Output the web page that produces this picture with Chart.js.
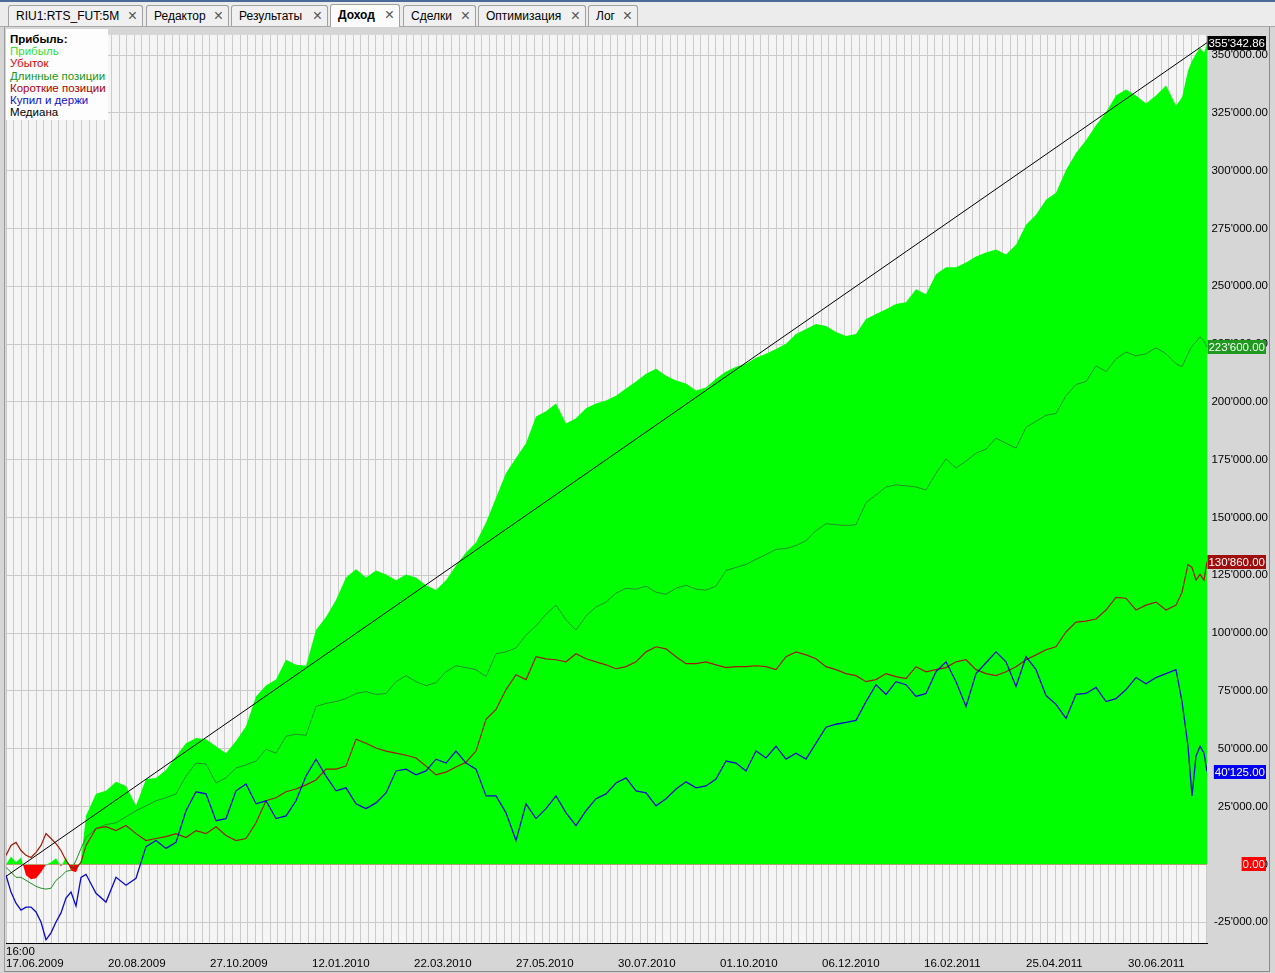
<!DOCTYPE html>
<html>
<head>
<meta charset="utf-8">
<script src="https://cdn.jsdelivr.net/npm/chart.js@4/dist/chart.umd.min.js"></script>
<style>
  html, body { margin: 0; padding: 0; }
  body {
    width: 1275px; height: 973px; position: relative; overflow: hidden;
    background: #d6d6d6;
    font-family: "Liberation Sans", Arial, sans-serif;
  }
  #topline { position: absolute; left: 0; top: 0; width: 1275px; height: 2px; background: #4a6a9a; }
  #tabs { position: absolute; left: 0; top: 2px; width: 1275px; height: 24px; background: #ececec; border-bottom: 1px solid #a8a8a8; }
  .tab {
    position: absolute; top: 3px; height: 21px; box-sizing: border-box;
    border: 1px solid #a0a0a0; border-bottom: none; border-radius: 3px 3px 0 0;
    background: #f0f0f0; font-size: 12px; line-height: 20px; padding-left: 7px;
    color: #000; white-space: nowrap;
  }
  .tab.active { background: #fbfbfb; font-weight: bold; top: 2px; height: 23px; }
  .tab .x { position: absolute; right: 5px; top: 1px; font-size: 16px; line-height: 18px; color: #555; font-weight: normal; }
  #frame { position: absolute; left: 4px; top: 27px; width: 1266px; height: 945px; border-left: 1px solid #9a9a9a; border-right: 1px solid #8a8a8a; border-bottom: 1px solid #8a8a8a; box-sizing: border-box; }
  #wrap { position: absolute; left: 0; top: 27px; width: 1268px; height: 946px; }
  #legend {
    position: absolute; left: 6px; top: 29px; width: 102px; height: 91px;
    background: #fdfdfd; font-size: 11.5px; line-height: 12.2px; padding: 4px 0 0 4px;
    box-sizing: border-box;
  }
  #legend div { white-space: nowrap; }
</style>
</head>
<body>
<div id="topline"></div>
<div id="tabs">
  <div class="tab" style="left:8px;width:135px">RIU1:RTS_FUT:5M<span class="x">×</span></div>
  <div class="tab" style="left:146px;width:83px">Редактор<span class="x">×</span></div>
  <div class="tab" style="left:231px;width:97px">Результаты<span class="x">×</span></div>
  <div class="tab active" style="left:330px;width:70px">Доход<span class="x">×</span></div>
  <div class="tab" style="left:403px;width:73px">Сделки<span class="x">×</span></div>
  <div class="tab" style="left:478px;width:108px">Оптимизация<span class="x">×</span></div>
  <div class="tab" style="left:588px;width:50px">Лог<span class="x">×</span></div>
</div>
<div id="frame"></div>
<div id="wrap"><canvas id="income" width="1268" height="946"></canvas></div>
<div id="legend">
  <div style="font-weight:bold;color:#000">Прибыль:</div>
  <div style="color:#33dd33">Прибыль</div>
  <div style="color:#e00000">Убыток</div>
  <div style="color:#1a961a">Длинные позиции</div>
  <div style="color:#b00000">Короткие позиции</div>
  <div style="color:#1010cc">Купил и держи</div>
  <div style="color:#000">Медиана</div>
</div>
<script>
// bar numbers of the sampled points (0 = 17.06.2009 16:00)
const bars = [0, 5, 10, 15, 20, 25, 30, 35, 40, 45, 50, 55, 60, 65, 70, 75, 80,
  90, 100, 110, 120, 130, 140, 150, 160, 170, 180, 190, 200, 210, 220, 230, 240, 250, 260, 270, 280,
  290, 300, 310, 320, 330, 340, 350, 360, 370, 380, 390, 400, 410, 420, 430, 440, 450, 460, 470, 480,
  490, 500, 510, 520, 530, 540, 550, 560, 570, 580, 590, 600, 610, 620, 630, 640, 650, 660, 670, 680,
  690, 700, 710, 720, 730, 740, 750, 760, 770, 780, 790, 800, 810, 820, 830, 840, 850, 860, 870, 880,
  890, 900, 910, 920, 930, 940, 950, 960, 970, 980, 990, 1000, 1010, 1020, 1030, 1040, 1050, 1060, 1070, 1080,
  1090, 1100, 1110, 1120, 1130, 1140, 1150, 1160, 1170,
  1176, 1182, 1186, 1190, 1194, 1198, 1201];

const profit = [0, 3400, 900, 3000, -4700, -6400, -6000, -3400, 0, 900, 2600, -900, 3000, -2600, -3400, 1700, 21000,
  30500, 31800, 35700, 33900, 25300, 36900, 37400, 40800, 46800, 52400,
  54600, 54100, 51100, 48100, 53300, 59700, 72600, 77300, 79900, 88500,
  86300, 85900, 101400, 107000, 114300, 124100, 127600, 124100, 127100, 125400,
  122900, 125400, 124100, 120700, 118600, 122900, 129300, 134900, 139200, 147800,
  158500, 169200, 175700, 182100, 193700, 195900, 199300, 190700, 192900, 197200,
  199300, 200600, 202700, 205800, 208800, 212200, 214300, 211300, 209200, 207900,
  204900, 206200, 210000, 213100, 215200, 216500, 219100, 220800, 222900, 225100,
  229400, 231500, 233700, 232800, 230200, 228500, 229400, 235800, 238000, 240100,
  242300, 243100, 248700, 246600, 255200, 258200, 258200, 260300, 262900, 264600,
  265900, 263700, 268000, 276600, 280900, 287400, 290400, 300300, 307600, 313100,
  319600, 325200, 332500, 335100, 332500, 329000, 332500, 336800, 328200,
  331600, 343200, 347500, 350500, 353100, 351000, 354460];

const longPos = [-1300, -3400, -5600, -5600, -6900, -8200, -9500, -10300, -10700, -10300, -6900, -5200, -3000, -2600, 1700, 6900, 11600,
  15500, 17200, 18000, 20600, 23200, 25300, 27500, 28800, 30500, 38200,
  43800, 43400, 35200, 37400, 41700, 43000, 44700, 49800, 48100, 55400,
  56300, 55800, 68300, 69600, 70400, 71700, 73900, 74700, 73500, 73900,
  79000, 81600, 79000, 77300, 78600, 83300, 85900, 85100, 84200, 81200,
  91100, 91900, 93600, 99200, 103100, 108200, 112100, 105700, 101400, 107400,
  111300, 113400, 117300, 119400, 119000, 120300, 117700, 116800, 119400, 120700,
  119000, 118600, 120300, 127100, 128400, 129700, 131900, 134000, 136200, 136600,
  137900, 140000, 144300, 147300, 146900, 146500, 146900, 156400, 159800, 163200,
  164100, 163700, 163200, 161900, 169200, 175300, 171400, 174400, 177800, 179600,
  184300, 182100, 180000, 189000, 191600, 194200, 195000, 202700, 207500, 208800,
  215600, 213100, 218600, 221600, 219900, 220800, 223400, 220800, 216500,
  215200, 220800, 224200, 225900, 228100, 226400, 223600];

const shortPos = [3900, 8200, 9500, 6000, 3900, 3000, 5200, 8200, 13300, 11200, 9000, 6000, 1700, -1300, -1700, 900, 8200,
  15500, 16300, 14600, 16800, 13300, 10300, 11200, 12000, 13300, 11600,
  14600, 13300, 16300, 12500, 10300, 11200, 18000, 27500, 28800, 31400,
  32600, 34400, 36500, 41200, 41200, 42500, 54100, 52400, 50300, 49000,
  48100, 47200, 46000, 42500, 38700, 39900, 42100, 44200, 49000, 62700,
  67000, 75600, 82000, 79900, 89800, 88900, 88500, 87600, 91100, 88900,
  87600, 86300, 84600, 85500, 87600, 91900, 94100, 93200, 89800, 86800,
  86800, 87600, 86300, 85100, 85500, 85500, 85900, 85500, 84200, 89800,
  91900, 90600, 88900, 85500, 84200, 82500, 81600, 79000, 79900, 82500,
  81200, 80300, 85500, 83300, 84200, 85100, 87600, 88500, 84200, 82500,
  81600, 83300, 85500, 88500, 90600, 92800, 94100, 100500, 104800, 105200,
  106100, 110000, 115500, 115100, 110000, 112100, 113400, 110000, 112100,
  117700, 129700, 128400, 122900, 125400, 122900, 130860];

const buyHold = [-4700, -12000, -16800, -19800, -18500, -18500, -20600, -24900, -32600, -29600, -24900, -21000, -14600, -12000, -18000, -5600, -4300,
  -12500, -16300, -5600, -9000, -6000, 7700, 10300, 6900, 9500, 23200,
  31400, 30500, 18900, 19800, 31800, 34800, 26200, 27500, 19800, 21000,
  27500, 38200, 45500, 38200, 31800, 33100, 26200, 24100, 26600, 30900,
  40400, 41200, 38700, 40400, 45500, 43800, 49000, 43800, 41200, 29600,
  29600, 22300, 10300, 26200, 19800, 24100, 29600, 22300, 16800, 23200,
  28400, 30500, 35200, 37400, 31800, 30900, 25300, 28400, 32600, 35700,
  33100, 33900, 36900, 44700, 43800, 40400, 49000, 46000, 51100, 45500,
  48100, 45500, 52400, 59300, 60600, 61400, 62300, 70400, 77700, 73500,
  79000, 77700, 72600, 73900, 83300, 87600, 79000, 68300, 82500, 87200,
  91900, 87600, 76900, 89800, 84200, 73000, 69200, 63100, 73500, 73900,
  76500, 70400, 71700, 75600, 80800, 78100, 80800, 82500, 84200,
  70400, 51100, 29600, 46800, 51100, 48100, 40125];

const medianBars = [0, 1201];
const median = [-5200, 355342.86];

const yTicks = [-25000, 0, 25000, 50000, 75000, 100000, 125000, 150000, 175000, 200000,
  225000, 250000, 275000, 300000, 325000, 350000];
const dateTicks = [0, 102, 204, 306, 408, 510, 612, 714, 816, 918, 1020, 1122];
const dateLabels = ['17.06.2009', '20.08.2009', '27.10.2009', '12.01.2010', '22.03.2010', '27.05.2010',
  '30.07.2010', '01.10.2010', '06.12.2010', '16.02.2011', '25.04.2011', '30.06.2011'];

const FONT = '"Liberation Sans", Arial, sans-serif';
const gridStep = 7.55;

function xy(xs, ys) {
  return xs.map((x, i) => ({ x: x, y: ys[i] }));
}

function money(v) {
  const s = Math.abs(v).toFixed(2).split('.');
  return (v < 0 ? '-' : '') + s[0].replace(/\B(?=(\d{3})+(?!\d))/g, "'") + '.' + s[1];
}

// plot background
const plotBg = {
  id: 'plotBg',
  beforeDraw(chart) {
    const a = chart.chartArea;
    const ctx = chart.ctx;
    ctx.save();
    ctx.fillStyle = '#f5f5f5';
    ctx.fillRect(a.left, a.top, a.right - a.left, a.bottom - a.top);
    ctx.restore();
  }
};

// coloured boxes with the last values on the right axis
const lastValues = {
  id: 'lastValues',
  afterDraw(chart) {
    const ctx = chart.ctx;
    const y = chart.scales.y;
    const right = chart.width - 2;
    const tags = [];
    chart.data.datasets.forEach(ds => {
      if (ds.tagColor) tags.push({ v: ds.data[ds.data.length - 1].y, c: ds.tagColor });
    });
    tags.push({ v: Math.min(0, profit[profit.length - 1]), c: '#ff0000' });
    ctx.save();
    ctx.font = '11.5px ' + FONT;
    ctx.textAlign = 'right';
    ctx.textBaseline = 'middle';
    tags.forEach(t => {
      const txt = money(t.v);
      const w = ctx.measureText(txt).width + 2;
      const py = Math.round(y.getPixelForValue(t.v));
      ctx.fillStyle = t.c;
      ctx.fillRect(right - w, py - 7, w, 14);
      ctx.fillStyle = '#fff';
      ctx.fillText(txt, right - 1, py + 1);
    });
    ctx.restore();
  }
};

new Chart(document.getElementById('income'), {
  type: 'line',
  data: {
    datasets: [
      { label: 'Медиана', data: xy(medianBars, median), borderColor: '#000', borderWidth: 1, tagColor: '#000' },
      { label: 'Купил и держи', data: xy(bars, buyHold), borderColor: '#0a0acc', borderWidth: 1.3, tagColor: '#0000ee' },
      { label: 'Короткие позиции', data: xy(bars, shortPos), borderColor: '#a21800', borderWidth: 1.2, tagColor: '#a00d0d' },
      { label: 'Длинные позиции', data: xy(bars, longPos), borderColor: '#23902a', borderWidth: 1, tagColor: '#1f9a1f' },
      {
        label: 'Прибыль', data: xy(bars, profit), borderColor: 'rgba(0,0,0,0)', borderWidth: 0,
        fill: { target: 'origin', above: '#00ff00', below: '#ff0000' }
      }
    ]
  },
  options: {
    responsive: false,
    animation: false,
    devicePixelRatio: 1,
    layout: { padding: { left: 6, top: 2, right: 0, bottom: 0 } },
    elements: { point: { radius: 0 }, line: { tension: 0 } },
    plugins: { legend: { display: false }, tooltip: { enabled: false } },
    scales: {
      x: {
        type: 'linear', min: 0, max: 1201, position: 'bottom',
        afterBuildTicks: s => {
          const t = [];
          for (let v = 0; v <= 1201; v += gridStep) t.push({ value: v });
          s.ticks = t;
        },
        afterFit: s => { s.height = 0; },
        grid: { color: '#cbcbcb', drawTicks: false },
        border: { color: '#000', width: 1 },
        ticks: { display: false }
      },
      xd: {
        type: 'linear', min: 0, max: 1201, position: 'bottom',
        afterBuildTicks: s => { s.ticks = dateTicks.map(v => ({ value: v })); },
        afterFit: s => { s.height = 30; },
        grid: { display: false, drawTicks: false },
        border: { display: false },
        ticks: {
          autoSkip: false, maxRotation: 0, minRotation: 0, align: 'start', padding: 3,
          color: '#000', font: { size: 11.5, family: FONT, lineHeight: 1.05 },
          callback: (v, i) => i === 0 ? ['16:00', dateLabels[0]] : ['', dateLabels[i]]
        }
      },
      y: {
        position: 'right', min: -34000, max: 358700,
        afterBuildTicks: s => { s.ticks = yTicks.map(v => ({ value: v })); },
        afterFit: s => { s.width = 61; },
        grid: { color: '#cbcbcb', drawTicks: false },
        border: { display: false },
        ticks: { color: '#000', font: { size: 11.5, family: FONT }, crossAlign: 'far', padding: 1, callback: v => money(v) }
      }
    }
  },
  plugins: [plotBg, lastValues]
});
</script>
</body>
</html>
